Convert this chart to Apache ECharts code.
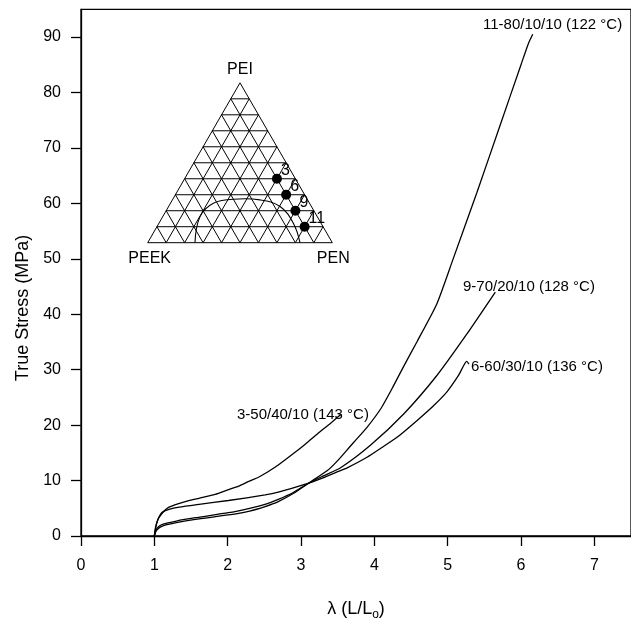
<!DOCTYPE html>
<html>
<head>
<meta charset="utf-8">
<script src="https://cdn.jsdelivr.net/npm/echarts@6/dist/echarts.min.js"></script>
<style>
  html, body { margin: 0; padding: 0; background: #fff; }
  #chart { width: 631px; height: 626px; }
</style>
</head>
<body>
<div id="chart"></div>
<script>
// True stress vs. draw ratio for PEN/PEI/PEEK blends, with composition inset.

const xTickValues = [0, 1, 2, 3, 4, 5, 6, 7];
const yTickValues = [0, 10, 20, 30, 40, 50, 60, 70, 80, 90];

// [lambda, true stress (MPa)]
const blend3 = [[1.00,0],[1.02,1.8],[1.05,3.0],[1.09,3.8],[1.14,4.6],[1.20,5.2],[1.32,5.8],[1.47,6.4],[1.61,6.8],[1.83,7.5],[2.00,8.3],[2.15,9.0],[2.28,9.8],[2.42,10.6],[2.55,11.6],[2.70,12.9],[2.91,15.0],[3.07,16.7],[3.23,18.5],[3.40,20.3],[3.55,22.0]];
const blend6 = [[1.00,0],[1.02,1.6],[1.05,3.0],[1.08,3.8],[1.11,4.3],[1.20,4.8],[1.34,5.2],[1.61,5.7],[2.01,6.4],[2.51,7.4],[2.69,7.9],[3.05,9.3],[3.30,10.5],[3.50,11.6],[3.63,12.3],[3.90,14.2],[4.13,16.2],[4.31,17.8],[4.58,20.8],[4.80,23.4],[4.99,26.0],[5.15,29.0],[5.26,31.5],[5.29,31.0]];
const blend9 = [[1.00,0],[1.02,1.0],[1.06,1.7],[1.11,2.1],[1.30,2.7],[1.56,3.3],[2.01,4.2],[2.30,5.0],[2.51,5.7],[2.69,6.6],[2.90,7.9],[3.10,9.5],[3.30,10.8],[3.54,12.3],[3.95,16.4],[4.40,22.0],[4.85,28.9],[5.26,36.4],[5.65,44.0]];
const blend11 = [[1.00,0],[1.02,0.8],[1.06,1.4],[1.11,1.8],[1.30,2.4],[1.56,3.0],[2.01,3.8],[2.30,4.5],[2.51,5.3],[2.69,6.2],[2.90,7.7],[3.10,9.5],[3.36,11.8],[3.50,13.6],[3.66,16.0],[3.72,16.9],[3.90,19.6],[4.09,23.0],[4.25,26.8],[4.40,30.6],[4.58,35.0],[4.85,41.8],[5.07,49.8],[5.40,62.0],[5.70,73.5],[6.00,85.0],[6.10,88.8],[6.16,90.5]];

const curveNames = ['3-50/40/10 (143 °C)', '6-60/30/10 (136 °C)', '9-70/20/10 (128 °C)', '11-80/10/10 (122 °C)'];

// Ternary inset: blend compositions (wt %)
const blendIds = ['3', '6', '9', '11'];
const blendPEN = [50, 60, 70, 80];
const blendPEI = [40, 30, 20, 10];
const blendPEEK = [10, 10, 10, 10];
// Phase boundary in the inset (PEN %, PEI %)
const boundaryPEN = [25.6, 20.2, 23.2, 32.8, 47.4, 60.4, 72.8, 82.5];
const boundaryPEI = [0, 16.3, 24.7, 27.2, 26.8, 22.6, 12.2, 0];
const vertexNames = ['PEI', 'PEEK', 'PEN'];
const gridStep = 10;

const xAxisTitle = 'λ (L/L{sub|o})';
const yAxisTitle = 'True Stress (MPa)';

const FONT = "'Liberation Sans', Arial, Helvetica, sans-serif";

// Inset placement (pixels)
const triLeft = 147.7, triBase = 242.7, triSide = 184.6;
const triH = triSide * Math.sqrt(3) / 2;
function tern(pen, pei) {
  return [triLeft + triSide * (pen + pei / 2) / 100, triBase - triH * pei / 100];
}

const graphics = [];
const lineStyle = { stroke: '#000', lineWidth: 1 };
function seg(a, b) {
  graphics.push({ type: 'line', shape: { x1: a[0], y1: a[1], x2: b[0], y2: b[1] }, style: lineStyle, silent: true });
}
// outline + grid
seg(tern(0, 0), tern(100, 0));
seg(tern(100, 0), tern(0, 100));
seg(tern(0, 100), tern(0, 0));
for (let v = gridStep; v < 100; v += gridStep) {
  seg(tern(0, v), tern(100 - v, v));       // constant PEI
  seg(tern(v, 0), tern(v, 100 - v));       // constant PEN
  seg(tern(100 - v, 0), tern(0, 100 - v));  // constant PEEK
}
// boundary curve
graphics.push({
  type: 'polyline', silent: true,
  shape: { points: boundaryPEN.map((p, i) => tern(p, boundaryPEI[i])), smooth: 0.4 },
  style: { stroke: '#000', lineWidth: 1.1, fill: null }
});
// blend points
blendIds.forEach((id, i) => {
  const p = tern(blendPEN[i], blendPEI[i]);
  graphics.push({ type: 'circle', silent: true, shape: { cx: p[0], cy: p[1], r: 5 }, style: { fill: '#000' } });
  graphics.push({ type: 'text', silent: true, x: p[0] + 4, y: p[1] - 8,
    style: { text: id, font: '16px ' + FONT, fill: '#000', align: 'left', verticalAlign: 'middle' } });
});
// vertex names
const apex = tern(0, 100), leftV = tern(0, 0), rightV = tern(100, 0);
graphics.push({ type: 'text', silent: true, x: apex[0], y: apex[1] - 13,
  style: { text: vertexNames[0], font: '16px ' + FONT, fill: '#000', align: 'center', verticalAlign: 'middle' } });
graphics.push({ type: 'text', silent: true, x: leftV[0] + 2, y: leftV[1] + 16,
  style: { text: vertexNames[1], font: '16px ' + FONT, fill: '#000', align: 'center', verticalAlign: 'middle' } });
graphics.push({ type: 'text', silent: true, x: rightV[0] + 1, y: rightV[1] + 16,
  style: { text: vertexNames[2], font: '16px ' + FONT, fill: '#000', align: 'center', verticalAlign: 'middle' } });

// curve annotations
const annotPos = [[237, 415], [471, 367], [463, 287], [483, 25]];
curveNames.forEach((t, i) => {
  graphics.push({ type: 'text', silent: true, x: annotPos[i][0], y: annotPos[i][1],
    style: { text: t, font: '15px ' + FONT, fill: '#000', align: 'left', verticalAlign: 'middle' } });
});

// vertical axis title
graphics.push({ type: 'text', silent: true, x: 23, y: 308, rotation: Math.PI / 2,
  style: { text: yAxisTitle, font: '18px ' + FONT, fill: '#000', align: 'center', verticalAlign: 'middle' } });

const chart = echarts.init(document.getElementById('chart'), null, { renderer: 'canvas' });
const axisCommon = {
  type: 'value',
  axisLine: { show: true, onZero: false, lineStyle: { color: '#000', width: 1.3 } },
  axisTick: { show: true, inside: false, length: 10, lineStyle: { color: '#000', width: 1.3 } },
  splitLine: { show: false }
};
const seriesData = [blend3, blend6, blend9, blend11];
chart.setOption({
  animation: false,
  backgroundColor: '#fff',
  grid: { left: 81, right: -5, top: 9.3, bottom: 69.3, show: true, borderColor: '#000', borderWidth: 1.3, backgroundColor: 'transparent' },
  xAxis: Object.assign({}, axisCommon, {
    min: 0, max: 7.5, interval: 1,
    axisTick: Object.assign({}, axisCommon.axisTick, { customValues: xTickValues }),
    axisLabel: { customValues: xTickValues, margin: 22, color: '#000', fontFamily: FONT, fontSize: 16 },
    name: xAxisTitle, nameLocation: 'middle', nameGap: 62,
    nameTextStyle: { color: '#000', fontFamily: FONT, fontSize: 18,
      rich: { sub: { fontFamily: FONT, fontSize: 12, color: '#000', padding: [11, 0, 0, 0] } } }
  }),
  yAxis: Object.assign({}, axisCommon, {
    min: 0, max: 95, interval: 10,
    axisTick: Object.assign({}, axisCommon.axisTick, { customValues: yTickValues }),
    axisLabel: { customValues: yTickValues, margin: 20, color: '#000', fontFamily: FONT, fontSize: 16 }
  }),
  series: seriesData.map((d, i) => ({
    type: 'line', name: curveNames[i], data: d, showSymbol: false, symbol: 'none',
    smooth: 0.2,
    lineStyle: { color: '#000', width: 1.3 }, z: 3
  })),
  graphic: { elements: graphics }
});
</script>
</body>
</html>
